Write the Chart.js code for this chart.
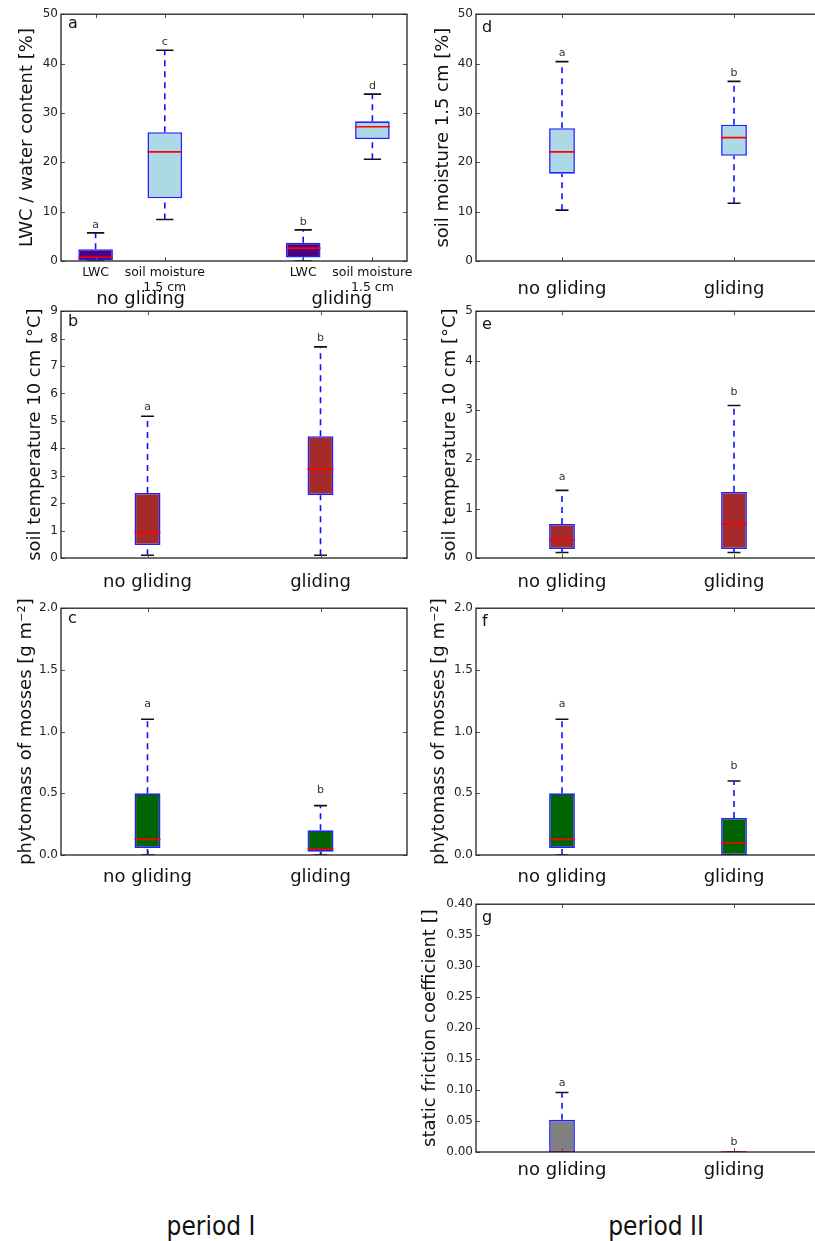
<!DOCTYPE html>
<html>
<head>
<meta charset="utf-8">
<title>period I / period II</title>
<script src="https://cdn.jsdelivr.net/npm/chart.js@4.4.1/dist/chart.umd.min.js"></script>
<style>
	html, body { margin: 0; padding: 0; background: #fff; overflow: hidden; width: 815px; height: 1241px; }
	.period { position: absolute; top: 1213px; font-family: "DejaVu Sans Condensed", "DejaVu Sans", sans-serif; font-size: 26px; line-height: 26px; color: #111; white-space: nowrap; transform: translateX(-50%); }
</style>
</head>
<body>
<div class="period" style="left:211px">period I</div>
<div class="period" style="left:656px">period II</div>

<script>
/*
	Box plots, period I (a, b, c) and period II (d, e, f, g)
	Boxes are floating bars, whiskers / caps / medians are short line datasets.
*/

// ---- data ----
var groups = ['no gliding', 'gliding'];

// a: LWC and soil moisture 1.5 cm, period I
var aTicks = ['LWC', ['soil moisture', '1.5 cm'], 'LWC', ['soil moisture', '1.5 cm']];
var aLo  = [0, 8.4, 0, 20.6];
var aQ1  = [0.1, 12.7, 0.7, 24.7];
var aMed = [0.75, 22.1, 2.6, 27.2];
var aQ3  = [2.4, 26.1, 3.7, 28.3];
var aHi  = [5.7, 42.7, 6.3, 33.8];
var aLetters = ['a', 'c', 'b', 'd'];

// b: soil temperature 10 cm, period I
var bLo  = [0.1, 0.1];
var bQ1  = [0.47, 2.29];
var bMed = [0.93, 3.24];
var bQ3  = [2.37, 4.44];
var bHi  = [5.17, 7.7];
var bLetters = ['a', 'b'];

// c: phytomass of mosses, period I
var cLo  = [0, 0];
var cQ1  = [0.057, 0.027];
var cMed = [0.127, 0.046];
var cQ3  = [0.5, 0.2];
var cHi  = [1.1, 0.4];
var cLetters = ['a', 'b'];

// d: soil moisture 1.5 cm, period II
var dLo  = [10.3, 11.7];
var dQ1  = [17.7, 21.3];
var dMed = [22.1, 25.0];
var dQ3  = [26.9, 27.6];
var dHi  = [40.4, 36.4];
var dLetters = ['a', 'b'];

// e: soil temperature 10 cm, period II
var eLo  = [0.11, 0.11];
var eQ1  = [0.18, 0.18];
var eMed = [0.37, 0.69];
var eQ3  = [0.69, 1.34];
var eHi  = [1.37, 3.09];
var eLetters = ['a', 'b'];

// f: phytomass of mosses, period II
var fLo  = [0, 0];
var fQ1  = [0.057, 0];
var fMed = [0.127, 0.097];
var fQ3  = [0.5, 0.3];
var fHi  = [1.1, 0.6];
var fLetters = ['a', 'b'];

// g: static friction coefficient, period II
var gLo  = [0, 0];
var gQ1  = [0, 0];
var gMed = [0, 0];
var gQ3  = [0.052, 0];
var gHi  = [0.096, 0];
var gLetters = ['a', 'b'];


// ---- style ----
Chart.defaults.font.family = '"DejaVu Sans", sans-serif';
Chart.defaults.color = '#222';

var BOX_EDGE = '#1f1fff';
var WHISKER = '#1010ff';
var CAP = '#111';
var MEDIAN = '#ff0000';
var DASH = [6, 5];


function seg(x1, y1, x2, y2, color, dash, order){
	return {
		type: 'line',
		data: [{x: x1, y: y1}, {x: x2, y: y2}],
		borderColor: color,
		borderWidth: 1.6,
		borderDash: dash,
		pointRadius: 0,
		fill: false,
		order: order
	};
}


function drawFrame(chart, p){
	var ctx = chart.ctx;
	var a = chart.chartArea;
	var xs = chart.scales.x;
	var ys = chart.scales.y;
	ctx.save();

	// ticks pointing inwards, all four sides
	ctx.strokeStyle = '#555';
	ctx.lineWidth = 1;
	ctx.beginPath();
	ys.ticks.forEach(function(t){
		var y = Math.round(ys.getPixelForValue(t.value)) + 0.5;
		ctx.moveTo(a.left, y); ctx.lineTo(a.left + 4, y);
		ctx.moveTo(a.right - 4, y); ctx.lineTo(a.right, y);
	});
	p.pos.forEach(function(v){
		var x = Math.round(xs.getPixelForValue(v)) + 0.5;
		ctx.moveTo(x, a.bottom); ctx.lineTo(x, a.bottom - 4);
		ctx.moveTo(x, a.top); ctx.lineTo(x, a.top + 4);
	});
	ctx.stroke();

	// frame
	ctx.strokeStyle = '#222';
	ctx.lineWidth = 1.3;
	ctx.strokeRect(a.left, a.top, a.right - a.left, a.bottom - a.top);

	// significance letters above the upper caps
	ctx.fillStyle = '#333';
	ctx.font = '11px "DejaVu Sans"';
	ctx.textAlign = 'center';
	ctx.textBaseline = 'middle';
	p.pos.forEach(function(v, i){
		ctx.fillText(p.letters[i], xs.getPixelForValue(v), ys.getPixelForValue(p.hi[i]) - p.letterOff);
	});

	// panel letter
	ctx.fillStyle = '#111';
	ctx.font = '16px "DejaVu Sans"';
	ctx.textAlign = 'left';
	ctx.textBaseline = 'alphabetic';
	ctx.fillText(p.id, a.left + p.idX, a.top + p.idY);

	// group labels under the two-line ticks (panel a only)
	if(p.groupAt){
		ctx.fillStyle = '#111';
		ctx.font = '18px "DejaVu Sans"';
		ctx.textAlign = 'center';
		ctx.textBaseline = 'middle';
		p.groupAt.forEach(function(v, i){
			ctx.fillText(groups[i], xs.getPixelForValue(v), a.bottom + 38);
		});
	}
	ctx.restore();
}


function makePanel(p){
	var padTop = 10, padRight = 14;
	var w = p.yw + (p.right - p.left) + padRight;
	var h = padTop + (p.bottom - p.top) + p.xh;

	var cv = document.createElement('canvas');
	cv.width = w;
	cv.height = h;
	cv.style.cssText = 'position:absolute;left:' + (p.left - p.yw) + 'px;top:' + (p.top - padTop) + 'px;width:' + w + 'px;height:' + h + 'px';
	document.body.appendChild(cv);

	var datasets = [{
		type: 'bar',
		data: p.pos.map(function(x, i){ return {x: x, y: [p.q1[i], p.q3[i]]}; }),
		backgroundColor: p.fill,
		borderColor: BOX_EDGE,
		borderWidth: 1.6,
		borderSkipped: false,
		barPercentage: p.boxW,
		categoryPercentage: 1,
		order: 3
	}];

	var hw = p.boxW / 2, cw = p.boxW / 4;
	p.pos.forEach(function(x, i){
		datasets.push(seg(x, p.lo[i], x, p.q1[i], WHISKER, DASH, 2));
		datasets.push(seg(x, p.q3[i], x, p.hi[i], WHISKER, DASH, 2));
		datasets.push(seg(x - cw, p.lo[i], x + cw, p.lo[i], CAP, [], 2));
		datasets.push(seg(x - cw, p.hi[i], x + cw, p.hi[i], CAP, [], 2));
		datasets.push(seg(x - hw, p.med[i], x + hw, p.med[i], MEDIAN, [], 1));
	});

	new Chart(cv.getContext('2d'), {
		type: 'bar',
		data: { datasets: datasets },
		options: {
			responsive: false,
			animation: false,
			layout: { padding: { top: padTop, right: padRight, left: 0, bottom: 0 } },
			plugins: { legend: { display: false }, tooltip: { enabled: false } },
			scales: {
				x: {
					type: 'linear',
					offset: false,
					min: p.xMin,
					max: p.xMax,
					grid: { display: false, offset: false, drawTicks: false },
					border: { display: false },
					afterBuildTicks: function(scale){
						scale.ticks = p.pos.map(function(v){ return {value: v}; });
					},
					afterFit: function(scale){ scale.height = p.xh; },
					ticks: {
						autoSkip: false,
						maxRotation: 0,
						padding: p.xPad,
						color: '#111',
						font: { size: p.xFont, lineHeight: 1.2 },
						callback: function(v, i){ return p.ticks[i]; }
					}
				},
				y: {
					min: 0,
					max: p.yMax,
					grid: { display: false, drawTicks: false },
					border: { display: false },
					afterFit: function(scale){ scale.width = p.yw; },
					ticks: {
						stepSize: p.yStep,
						padding: 3,
						color: '#222',
						font: { size: 12 },
						callback: function(v){ return v.toFixed(p.yDec); }
					},
					title: {
						display: true,
						text: p.title,
						color: '#111',
						font: { size: 18, lineHeight: 1.2 },
						padding: { top: p.yw - p.titleOff - 10.8, bottom: 0 }
					}
				}
			}
		},
		plugins: [{ id: 'frame', afterDraw: function(chart){ drawFrame(chart, p); } }]
	});
}


// ---- panels ----
var left1 = { left: 61, right: 407, yw: 61 };
var left2 = { left: 476, right: 820, yw: 66 };

function panel(col, o){
	o.left = col.left; o.right = col.right; o.yw = col.yw;
	return o;
}

makePanel(panel(left1, {
	id: 'a', top: 14, bottom: 261, xh: 50, xPad: 4.5, xFont: 12.5,
	pos: [1, 2, 4, 5], xMin: 0.5, xMax: 5.5, boxW: 0.5, ticks: aTicks, groupAt: [1.65, 4.56],
	lo: aLo, q1: aQ1, med: aMed, q3: aQ3, hi: aHi, letters: aLetters, letterOff: 8,
	fill: ['#4b0082', '#add8e6', '#4b0082', '#add8e6'],
	yMax: 50, yStep: 10, yDec: 0, title: 'LWC / water content [%]', titleOff: 34,
	idX: 7, idY: 14
}));

makePanel(panel(left1, {
	id: 'b', top: 311, bottom: 558, xh: 40, xPad: 14, xFont: 18,
	pos: [1, 2], xMin: 0.5, xMax: 2.5, boxW: 0.15, ticks: groups,
	lo: bLo, q1: bQ1, med: bMed, q3: bQ3, hi: bHi, letters: bLetters, letterOff: 9,
	fill: '#a52a2a',
	yMax: 9, yStep: 1, yDec: 0, title: 'soil temperature 10 cm [°C]', titleOff: 26,
	idX: 7, idY: 15
}));

makePanel(panel(left1, {
	id: 'c', top: 608, bottom: 855, xh: 40, xPad: 11.7, xFont: 18,
	pos: [1, 2], xMin: 0.5, xMax: 2.5, boxW: 0.15, ticks: groups,
	lo: cLo, q1: cQ1, med: cMed, q3: cQ3, hi: cHi, letters: cLetters, letterOff: 15,
	fill: '#006400',
	yMax: 2, yStep: 0.5, yDec: 1, title: 'phytomass of mosses [g m⁻²]', titleOff: 35,
	idX: 7, idY: 15
}));

makePanel(panel(left2, {
	id: 'd', top: 14, bottom: 261, xh: 40, xPad: 17.7, xFont: 18,
	pos: [1, 2], xMin: 0.5, xMax: 2.5, boxW: 0.15, ticks: groups,
	lo: dLo, q1: dQ1, med: dMed, q3: dQ3, hi: dHi, letters: dLetters, letterOff: 8,
	fill: '#add8e6',
	yMax: 50, yStep: 10, yDec: 0, title: 'soil moisture 1.5 cm [%]', titleOff: 33,
	idX: 6, idY: 18
}));

makePanel(panel(left2, {
	id: 'e', top: 311, bottom: 558, xh: 40, xPad: 14, xFont: 18,
	pos: [1, 2], xMin: 0.5, xMax: 2.5, boxW: 0.15, ticks: groups,
	lo: eLo, q1: eQ1, med: eMed, q3: eQ3, hi: eHi, letters: eLetters, letterOff: 13.5,
	fill: '#a52a2a',
	yMax: 5, yStep: 1, yDec: 0, title: 'soil temperature 10 cm [°C]', titleOff: 26,
	idX: 6, idY: 18
}));

makePanel(panel(left2, {
	id: 'f', top: 608, bottom: 855, xh: 40, xPad: 11.7, xFont: 18,
	pos: [1, 2], xMin: 0.5, xMax: 2.5, boxW: 0.15, ticks: groups,
	lo: fLo, q1: fQ1, med: fMed, q3: fQ3, hi: fHi, letters: fLetters, letterOff: 15,
	fill: '#006400',
	yMax: 2, yStep: 0.5, yDec: 1, title: 'phytomass of mosses [g m⁻²]', titleOff: 37,
	idX: 6, idY: 18
}));

makePanel(panel(left2, {
	id: 'g', top: 904, bottom: 1152, xh: 40, xPad: 8, xFont: 18,
	pos: [1, 2], xMin: 0.5, xMax: 2.5, boxW: 0.15, ticks: groups,
	lo: gLo, q1: gQ1, med: gMed, q3: gQ3, hi: gHi, letters: gLetters, letterOff: 9.5,
	fill: '#808080',
	yMax: 0.4, yStep: 0.05, yDec: 2, title: 'static friction coefficient []', titleOff: 46,
	idX: 6, idY: 18
}));
</script>
</body>
</html>
